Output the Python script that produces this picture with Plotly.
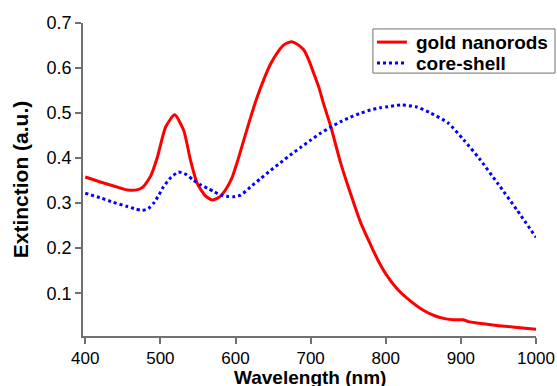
import plotly.graph_objects as go

# Data
gold_wl = [400, 420, 440, 457, 470, 477, 487, 496, 507, 519, 531, 540, 549, 560, 569, 578, 586, 595, 603, 611, 620,
           629, 638, 647, 656, 664, 671, 676, 683, 691, 698, 704, 711, 717, 727, 740, 753, 767, 780, 790, 800,
           815, 829, 850, 865, 880, 890, 897, 903, 910, 930, 950, 975, 1000]
gold_ext = [0.358, 0.347, 0.337, 0.329, 0.330, 0.336, 0.360, 0.402, 0.469, 0.496, 0.462, 0.396, 0.344, 0.316, 0.307, 0.313, 0.328, 0.355, 0.395, 0.440, 0.490,
            0.536, 0.576, 0.610, 0.635, 0.651, 0.657, 0.658, 0.652, 0.640, 0.616, 0.589, 0.557, 0.522, 0.469, 0.389, 0.322, 0.255, 0.207, 0.172, 0.143,
            0.110, 0.088, 0.062, 0.050, 0.043, 0.041, 0.041, 0.041, 0.037, 0.032, 0.028, 0.024, 0.020]

cs_wl = [400, 420, 437, 455, 467, 476, 484, 491, 498, 504, 514, 524, 534, 544, 553, 563, 572, 580, 590, 597, 607,
         620, 633, 647, 660, 673, 687, 700, 713, 727, 740, 753, 767, 780, 793, 803, 820, 840, 860, 883, 904,
         925, 949, 975, 1000]
cs_ext = [0.322, 0.312, 0.302, 0.293, 0.287, 0.284, 0.288, 0.300, 0.318, 0.336, 0.357, 0.369, 0.364, 0.351, 0.341, 0.333, 0.325, 0.318, 0.315, 0.314, 0.318,
          0.336, 0.354, 0.373, 0.390, 0.407, 0.424, 0.440, 0.455, 0.469, 0.481, 0.491, 0.500, 0.507, 0.512, 0.514, 0.518, 0.514, 0.500, 0.478, 0.440,
          0.398, 0.344, 0.284, 0.224]

series_names = ["gold nanorods", "core-shell"]
series_colors = ["#ff0000", "#0000ff"]
series_dash = ["solid", "dot"]

tick_vals_y = [0.1, 0.2, 0.3, 0.4, 0.5, 0.6, 0.7]
tick_vals_x = [400, 500, 600, 700, 800, 900, 1000]

x_title = "Wavelength (nm)"
y_title = "Extinction (a.u.)"

FONT = "Liberation Sans, Arial, Helvetica"

fig = go.Figure()
for wl, ext, name, col, dash in zip([gold_wl, cs_wl], [gold_ext, cs_ext], series_names, series_colors, series_dash):
    fig.add_trace(go.Scatter(x=wl, y=ext, mode="lines", name=name, showlegend=False,
                             line=dict(color=col, width=3, dash=dash, shape="spline", smoothing=0.6)))

axis_common = dict(showline=True, linecolor="#707070", linewidth=1.5, ticks="outside", ticklen=6,
                   tickcolor="#707070", tickwidth=1.5, showgrid=False, zeroline=False, automargin=False)

# Legend box drawn in paper coordinates (plot area: 453 x 313 px)
shapes = [dict(type="rect", xref="paper", yref="paper", x0=0.640, x1=1.042, y0=0.840, y1=0.981,
               line=dict(color="#707070", width=1), fillcolor="white", layer="above")]
annotations = []
for i, (name, col, dash) in enumerate(zip(series_names, series_colors, series_dash)):
    yy = 0.939 - i * 0.067
    shapes.append(dict(type="line", xref="paper", yref="paper", x0=0.649, x1=0.715, y0=yy, y1=yy,
                       line=dict(color=col, width=3, dash=dash), layer="above"))
    annotations.append(dict(xref="paper", yref="paper", x=0.730, y=yy, xanchor="left", yanchor="middle",
                            text="<b>" + name + "</b>", showarrow=False,
                            font=dict(family=FONT, size=19, color="black")))

# x-axis title placed just below the tick labels
annotations.append(dict(xref="paper", yref="paper", x=0.5, y=-0.0915, xanchor="center", yanchor="top",
                        text="<b>" + x_title + "</b>", showarrow=False,
                        font=dict(family=FONT, size=19, color="black")))

fig.update_layout(
    width=557, height=386,
    margin=dict(l=83, r=21, t=23, b=50, autoexpand=False),
    paper_bgcolor="white", plot_bgcolor="white",
    showlegend=False,
    shapes=shapes, annotations=annotations,
    xaxis=dict(range=[397, 1000], tickvals=tick_vals_x,
               tickfont=dict(family=FONT, size=17, color="black"), **axis_common),
    yaxis=dict(range=[0.005, 0.7], tickvals=tick_vals_y,
               tickfont=dict(family=FONT, size=18, color="black"),
               title=dict(text="<b>" + y_title + "</b>", standoff=12,
                          font=dict(family=FONT, size=21, color="black")),
               **axis_common),
)

fig.write_html("out.html", config={"displayModeBar": False},
               post_script="document.body.style.margin='0';document.body.style.overflow='hidden';")
